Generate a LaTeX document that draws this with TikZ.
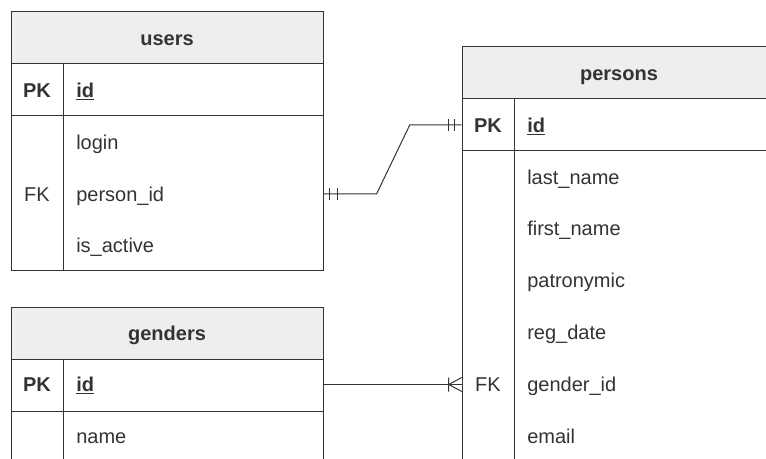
\documentclass[tikz,border=0pt]{standalone}
\usepackage{fontspec}
\setmainfont{Liberation Sans}
\usetikzlibrary{calc}
\definecolor{EREdge}{HTML}{333333}
\definecolor{ERHead}{HTML}{EEEEEE}
\definecolor{ERText}{HTML}{333333}
\newcommand{\erfont}{\fontsize{15}{18}\selectfont}
\tikzset{frame/.style={draw=EREdge,line width=0.75pt},hdr/.style={frame,fill=ERHead},rel/.style={draw=EREdge,line width=0.75pt},
title/.style={font=\erfont\bfseries,text=ERText,inner sep=0pt,text height=10.7pt,text depth=0pt},
keycell/.style={font=\erfont,text=ERText,minimum width=39pt,minimum height=38.8pt,inner sep=0pt,text height=10.7pt,text depth=0pt},
field/.style={font=\erfont,anchor=west,text=ERText,inner xsep=9.75pt,inner ysep=0pt,text width=175.5pt,align=left,text height=10.7pt,text depth=0pt}}
\begin{document}
\begin{tikzpicture}[x=0.75pt,y=-0.75pt]
\useasboundingbox (0,0) rectangle (766,459);
\clip (0,0) rectangle (766,459);
% users
\filldraw[hdr] (11,12) rectangle (323,64);
\draw[frame] (11,64) rectangle (323,271) (11,116)--(323,116) (63,64)--(63,271);
\node[title] (users) at (167,38) {users};
\node[keycell] (u-pk) at (37,90) {\textbf{PK}};
\node[field] (u-id) at (63,90) {\textbf{\underline{id}}};
\node[field] (u-login) at (63,142) {login};
\node[keycell] (u-fk) at (37,194) {FK};
\node[field] (u-pid) at (63,194) {person\_id};
\node[field] (u-active) at (63,245) {is\_active};
% genders
\filldraw[hdr] (11,307) rectangle (323,359);
\draw[frame] (11,359) rectangle (323,470) (11,411)--(323,411) (63,359)--(63,470);
\node[title] (genders) at (167,333) {genders};
\node[keycell] (g-pk) at (37,384.5) {\textbf{PK}};
\node[field] (g-id) at (63,384.5) {\textbf{\underline{id}}};
\node[field] (g-name) at (63,436) {name};
% persons
\filldraw[hdr] (462,47) rectangle (776,99);
\draw[frame] (462,99) rectangle (776,470) (462,151)--(776,151) (514,99)--(514,470);
\node[title] (persons) at (619,73) {persons};
\node[keycell] (p-pk) at (488,125) {\textbf{PK}};
\node[field] (p-id) at (514,125) {\textbf{\underline{id}}};
\node[field] (p-last) at (514,177) {last\_name};
\node[field] (p-first) at (514,228.5) {first\_name};
\node[field] (p-patr) at (514,280) {patronymic};
\node[field] (p-reg) at (514,332) {reg\_date};
\node[keycell] (p-fk) at (488,384.5) {FK};
\node[field] (p-gid) at (514,384.5) {gender\_id};
\node[field] (p-email) at (514,436) {email};
% relations
\draw[rel] (u-pid.east)--++(53,0)--($(p-pk.west)+(-52,0)$)--(p-pk.west);
\draw[rel] ($(u-pid.east)+(6,-6)$)--++(0,12) ($(u-pid.east)+(14,-6)$)--++(0,12);
\draw[rel] ($(p-pk.west)+(-7,-6)$)--++(0,12) ($(p-pk.west)+(-13,-6)$)--++(0,12);
\draw[rel] (g-id.east)--(p-fk.west);
\draw[rel] ($(p-fk.west)+(-13,-7)$)--++(0,14) ($(p-fk.west)+(-13,0)$)--($(p-fk.west)+(0,-7)$) ($(p-fk.west)+(-13,0)$)--($(p-fk.west)+(0,7)$);
\end{tikzpicture}
\end{document}
